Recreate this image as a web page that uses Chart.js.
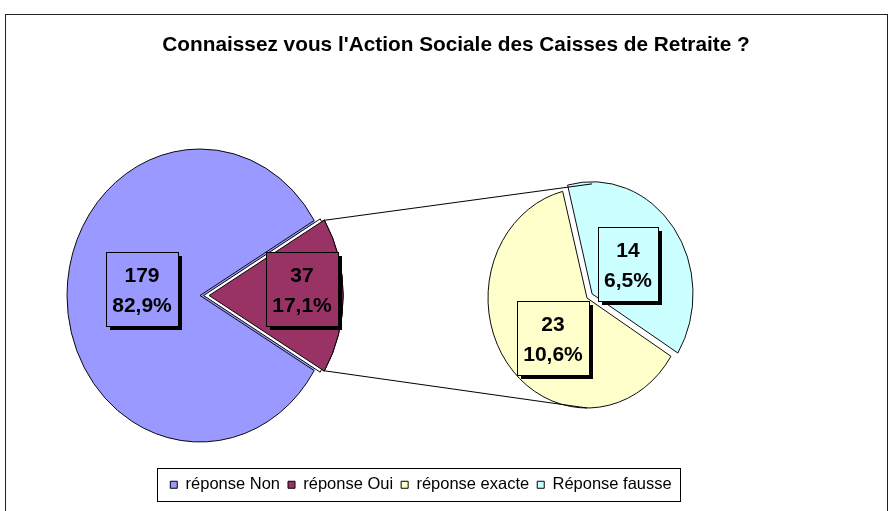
<!DOCTYPE html>
<html><head><meta charset="utf-8">
<script src="https://cdn.jsdelivr.net/npm/chart.js@4/dist/chart.umd.min.js"></script>
<style>
html,body{margin:0;padding:0;background:#fff;}
#wrap{position:relative;width:889px;height:511px;overflow:hidden;background:#fff;}
#frame{position:absolute;left:5px;top:14px;width:883px;height:520px;border:1px solid #222;box-sizing:border-box;}
canvas{position:absolute;left:0;top:0;}
</style></head><body>
<div id="wrap"><div id="frame"></div>
<canvas id="main" width="889" height="511"></canvas>
<canvas id="detail" width="889" height="511"></canvas>
</div>
<script>
// ---- data ----
const titleText = "Connaissez vous l'Action Sociale des Caisses de Retraite ?";
const mainLabels = ['réponse Non', 'réponse Oui'];
const mainValues = [179, 37];
const detailLabels = ['réponse exacte', 'Réponse fausse'];
const detailValues = [23, 14];
const mainColors = ['#9999FF', '#993366'];
const detailColors = ['#FFFFCC', '#CCFFFF'];

// ---- style ----
const FONT = '"Liberation Sans", Arial, sans-serif';
const MAIN_GEOM = {cx: 200, cy: 295.5, r: 146.5, sx: 133 / 146.5, rotation: 120.85};
const DETAIL_GEOM = {cx: 587, cy: 298, r: 110, sx: 99 / 110, rotation: 122};
const mainLabelPos = [[0.438, 5.8], [0.70, -3.4]];      // [radius fraction, angle shift deg]
const detailLabelPos = [[0.50, -10.6], [0.457, -0.9]];
const OFFSET_DIV = 4;
const grandTotal = mainValues.reduce((a, b) => a + b, 0);

function pct(v) { return (v / grandTotal * 100).toFixed(1).replace('.', ',') + '%'; }

function arcOff(arc) { return (arc.options.offset || 0) / OFFSET_DIV; }
function toScreen(chart, geom, px, py) {
  const a = chart.getDatasetMeta(0).data[0];
  return [geom.cx + geom.sx * (px - a.x), geom.cy + (py - a.y)];
}
function arcPoint(chart, geom, arc, ang, rr) {
  const mid = (arc.startAngle + arc.endAngle) / 2, off = arcOff(arc);
  const px = arc.x + Math.cos(mid) * off + Math.cos(ang) * rr;
  const py = arc.y + Math.sin(mid) * off + Math.sin(ang) * rr;
  return toScreen(chart, geom, px, py);
}

function drawLabels(chart, geom, labelPos, colors) {
  const ctx = chart.ctx;
  const meta = chart.getDatasetMeta(0);
  const data = chart.data.datasets[0].data;
  ctx.save();
  ctx.font = 'bold 21px ' + FONT;
  meta.data.forEach((arc, i) => {
    const mid = (arc.startAngle + arc.endAngle) / 2;
    const ang = mid + labelPos[i][1] * Math.PI / 180;
    const [X, Y] = arcPoint(chart, geom, arc, ang, arc.outerRadius * labelPos[i][0]);
    const l1 = String(data[i]), l2 = pct(data[i]);
    const w = Math.round(Math.max(ctx.measureText(l1).width, ctx.measureText(l2).width) + 12);
    const h = 74;
    const x = Math.round(X - w / 2), y = Math.round(Y - h / 2);
    ctx.fillStyle = '#000';
    ctx.fillRect(x + 4, y + 4, w, h);
    ctx.fillStyle = colors[i];
    ctx.fillRect(x, y, w, h);
    ctx.strokeStyle = '#000'; ctx.lineWidth = 1;
    ctx.strokeRect(x + 0.5, y + 0.5, w, h);
    ctx.fillStyle = '#000';
    ctx.textAlign = 'center'; ctx.textBaseline = 'alphabetic';
    ctx.fillText(l1, x + w / 2, y + 30);
    ctx.fillText(l2, x + w / 2, y + 60);
  });
  ctx.restore();
}

function piePlugin(geom, labelPos, colors, extra) {
  return {
    id: 'ellipsePie',
    beforeDatasetsDraw(chart) {
      const ctx = chart.ctx, a = chart.getDatasetMeta(0).data[0];
      ctx.save();
      ctx.translate(geom.cx, geom.cy); ctx.scale(geom.sx, 1); ctx.translate(-a.x, -a.y);
      if (extra && extra.before) extra.before(chart);
    },
    afterDatasetsDraw(chart) {
      if (extra && extra.after) extra.after(chart);
      chart.ctx.restore();
      drawLabels(chart, geom, labelPos, colors);
    }
  };
}

// exploded-slice outline (Excel style), derived from the library's arc geometry
const mainExtra = {
  before(chart) {
    const ctx = chart.ctx, arc = chart.getDatasetMeta(0).data[1];
    ctx.beginPath();
    ctx.moveTo(arc.x, arc.y);
    ctx.arc(arc.x, arc.y, arc.outerRadius, arc.startAngle, arc.endAngle);
    ctx.closePath();
    ctx.fillStyle = mainColors[0];
    ctx.fill();
  },
  after(chart) {
    const ctx = chart.ctx, arc = chart.getDatasetMeta(0).data[1];
    const mid = (arc.startAngle + arc.endAngle) / 2, g = 4;
    const gx = arc.x + Math.cos(mid) * g, gy = arc.y + Math.sin(mid) * g;
    ctx.beginPath();
    ctx.moveTo(gx, gy);
    ctx.arc(gx, gy, arc.outerRadius + 3, arc.startAngle, arc.endAngle);
    ctx.closePath();
    ctx.fillStyle = '#fff'; ctx.fill();
    ctx.strokeStyle = '#000'; ctx.lineWidth = 1; ctx.stroke();
    arc.draw(ctx);
  }
};

const allLabels = mainLabels.concat(detailLabels);
const allColors = mainColors.concat(detailColors);

const legendBox = {
  id: 'legendBox',
  afterDraw(chart) {
    const hb = chart.legend.legendHitBoxes;
    if (!hb || !hb.length) return;
    const ctx = chart.ctx;
    const last = hb[hb.length - 1];
    const l = Math.round(hb[0].left - 13), r = Math.round(last.left + last.width + 8);
    const cy = Math.round(hb[0].top + hb[0].height / 2);
    ctx.save();
    ctx.strokeStyle = '#000'; ctx.lineWidth = 1;
    ctx.strokeRect(l + 0.5, cy - 16.5, r - l, 33);
    ctx.restore();
  }
};

const mainChart = new Chart(document.getElementById('main'), {
  type: 'pie',
  data: {
    labels: mainLabels,
    datasets: [{
      data: mainValues,
      backgroundColor: mainColors,
      borderColor: '#000',
      borderWidth: 1,
      offset: [0, 40],
      clip: false
    }]
  },
  options: {
    responsive: false, animation: false, events: [],
    rotation: MAIN_GEOM.rotation,
    radius: MAIN_GEOM.r,
    layout: {padding: {left: 0, right: 47, top: 0, bottom: 8}},
    plugins: {
      title: {display: false},
      tooltip: {enabled: false},
      legend: {
        position: 'bottom',
        labels: {
          boxWidth: 7, boxHeight: 7, padding: 8, color: '#000',
          font: {family: FONT, size: 16.5},
          generateLabels: () => allLabels.map((t, i) => ({
            text: t, fillStyle: allColors[i], strokeStyle: '#000', lineWidth: 1,
            hidden: false, index: i, datasetIndex: 0, fontColor: '#000'
          }))
        }
      }
    }
  },
  plugins: [piePlugin(MAIN_GEOM, mainLabelPos, mainColors, mainExtra), legendBox]
});

const connectors = {
  id: 'connectors',
  afterDraw(chart) {
    const ctx = chart.ctx;
    const src = mainChart.getDatasetMeta(0).data[1];
    const p1 = arcPoint(mainChart, MAIN_GEOM, src, src.startAngle, src.outerRadius);
    const p2 = arcPoint(mainChart, MAIN_GEOM, src, src.endAngle, src.outerRadius);
    const arcs = chart.getDatasetMeta(0).data;
    const norm = a => ((a % (2 * Math.PI)) + 2 * Math.PI) % (2 * Math.PI);
    const find = ang => arcs.find(a => {
      const s = norm(a.startAngle), span = a.endAngle - a.startAngle;
      return norm(ang - s) <= span;
    }) || arcs[0];
    const topArc = find(-Math.PI / 2), botArc = find(Math.PI / 2);
    const q1 = arcPoint(chart, DETAIL_GEOM, topArc, -Math.PI / 2, topArc.outerRadius);
    const q2 = arcPoint(chart, DETAIL_GEOM, botArc, Math.PI / 2, botArc.outerRadius);
    ctx.save();
    ctx.strokeStyle = '#000'; ctx.lineWidth = 1;
    ctx.beginPath();
    ctx.moveTo(p1[0], p1[1]); ctx.lineTo(q1[0], q1[1]);
    ctx.moveTo(p2[0], p2[1]); ctx.lineTo(q2[0], q2[1]);
    ctx.stroke();
    ctx.restore();
  }
};

const detailChart = new Chart(document.getElementById('detail'), {
  type: 'pie',
  data: {
    labels: detailLabels,
    datasets: [{
      data: detailValues,
      backgroundColor: detailColors,
      borderColor: '#000',
      borderWidth: 1,
      offset: [0, 28],
      clip: false
    }]
  },
  options: {
    responsive: false, animation: false, events: [],
    rotation: DETAIL_GEOM.rotation,
    radius: DETAIL_GEOM.r,
    layout: {padding: {left: 23, right: 0, top: 23, bottom: 0}},
    plugins: {
      legend: {display: false},
      tooltip: {enabled: false},
      title: {
        display: true, text: titleText, color: '#000',
        font: {family: FONT, size: 20.8, weight: 'bold'},
        padding: {top: 10, bottom: 10}
      }
    }
  },
  plugins: [piePlugin(DETAIL_GEOM, detailLabelPos, detailColors), connectors]
});
</script>
</body></html>
